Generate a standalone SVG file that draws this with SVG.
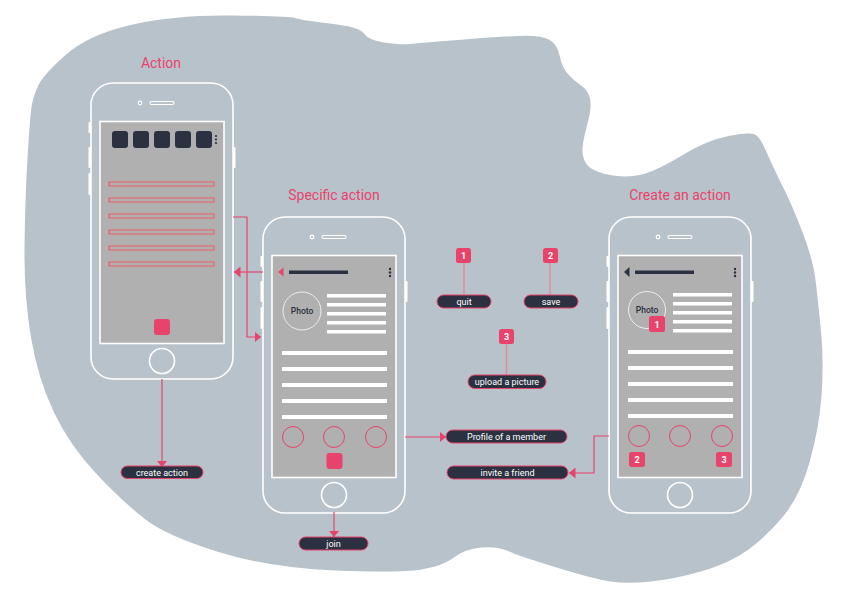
<svg xmlns="http://www.w3.org/2000/svg" xmlns:xlink="http://www.w3.org/1999/xlink" width="842" height="596" viewBox="0 0 842 596">
<style>
.title{font-family:Roboto,"Liberation Sans",sans-serif;font-size:14px;fill:#e8436b;text-anchor:middle}
.pill rect{fill:#2b3141;stroke:#e8436b;stroke-width:1}
.pill text{font-family:Roboto,"Liberation Sans",sans-serif;font-size:9px;fill:#ffffff;text-anchor:middle}
.badge rect{fill:#e8436b}
.badge text{font-family:Roboto,"Liberation Sans",sans-serif;font-size:9px;font-weight:bold;fill:#ffffff;text-anchor:middle}
.frame{fill:none;stroke:#ffffff;stroke-width:1.6}
.screen{fill:#b0b0b0;stroke:#ffffff;stroke-width:1.6}
.btn{fill:#ffffff}
.dark{fill:#2b3141}
.wline{fill:#ffffff}
.obar{fill:none;stroke:#f05a68;stroke-width:1}
.pcirc{fill:none;stroke:#e8436b;stroke-width:1}
.psq{fill:#e8436b}
.photo{fill:none;stroke:#eeeeee;stroke-width:1}
.phototxt{font-family:Roboto,"Liberation Sans",sans-serif;font-size:8.5px;font-weight:500;fill:#2b3141;text-anchor:middle}
.conn{fill:none;stroke:#e8436b;stroke-width:1.2}
.stem{fill:none;stroke:#e08c9e;stroke-width:1.5}
</style>
<defs>
<marker id="arr" markerUnits="userSpaceOnUse" markerWidth="7" markerHeight="11" refX="6.5" refY="5.5" orient="auto">
<path d="M0,0 L6.5,5.5 L0,11 Z" fill="#e8436b"/>
</marker>
<g id="phoneFrame">
<rect class="btn" x="-2.5" y="39" width="2.5" height="11" rx="1"/>
<rect class="btn" x="-2.5" y="64" width="2.5" height="21" rx="1"/>
<rect class="btn" x="-2.5" y="90" width="2.5" height="22" rx="1"/>
<rect class="btn" x="142" y="64" width="2.5" height="21" rx="1"/>
<rect class="frame" x="0" y="0" width="142" height="296" rx="22"/>
<rect class="screen" x="9" y="38.5" width="124" height="222"/>
<circle cx="49" cy="20" r="1.8" fill="none" stroke="#ffffff" stroke-width="1.2"/>
<rect x="59" y="18.5" width="24" height="3" rx="1.5" fill="none" stroke="#ffffff" stroke-width="1.1"/>
<circle cx="71" cy="278" r="12.5" fill="none" stroke="#ffffff" stroke-width="1.6"/>
</g>
</defs>
<rect width="842" height="596" fill="#ffffff"/>
<path id="blob" fill="#b8c2cb" d="M65.5,55 Q88,35 130.5,25 Q173,15 231.5,15.5 Q290,16 295,18 Q300,20 330,23.5 Q360,27 364,33.5 Q368,40 384,42.5 Q400,45 410,44 Q420,43 470,39 Q520,35 533.5,36 Q547,37 552.5,42 Q558,47 560,57 Q562,67 567.5,73.5 Q573,80 580.5,85 Q588,90 590,98.5 Q592,107 587.5,123.5 Q583,140 582.5,148.5 Q582,157 586,163.5 Q590,170 605,174 Q620,178 636.5,175.5 Q653,173 680,156.5 Q707,140 728.5,136 Q750,132 755,134.5 Q760,137 766.5,152 Q773,167 783,187 Q793,207 803,233.5 Q813,260 815.5,280 Q818,300 821,331.5 Q824,363 821.5,396 Q819,429 809.5,462.5 Q800,496 783.5,516 Q767,536 748.5,549.5 Q730,563 702.5,571 Q675,579 651,581.5 Q627,584 610.5,581.5 Q594,579 556.5,567.5 Q519,556 508,551 Q497,546 481,547.5 Q465,549 454,557.5 Q443,566 421.5,569.5 Q400,573 335,570.5 Q270,568 218.5,552 Q167,536 145.5,519.5 Q124,503 97,474.5 Q70,446 54,412.5 Q38,379 31,337.5 Q24,296 24.5,248 Q25,200 27.5,158.5 Q30,117 31.5,107 Q33,97 38,86 Q43,75 65.5,55 Z"/>

<g id="titles">
<text class="title" x="161" y="68">Action</text>
<text class="title" x="334" y="200">Specific action</text>
<text class="title" x="680" y="200">Create an action</text>
</g>

<g id="phone-action">
<use xlink:href="#phoneFrame" href="#phoneFrame" transform="translate(91,83)"/>
<rect class="dark" x="112" y="131" width="16" height="17" rx="3"/>
<rect class="dark" x="133" y="131" width="16" height="17" rx="3"/>
<rect class="dark" x="154" y="131" width="16" height="17" rx="3"/>
<rect class="dark" x="175" y="131" width="16" height="17" rx="3"/>
<rect class="dark" x="196" y="131" width="16" height="17" rx="3"/>
<circle class="dark" cx="216" cy="136" r="1.1"/>
<circle class="dark" cx="216" cy="139.5" r="1.1"/>
<circle class="dark" cx="216" cy="143" r="1.1"/>
<rect class="obar" x="109" y="182" width="105" height="4"/>
<rect class="obar" x="109" y="198" width="105" height="4"/>
<rect class="obar" x="109" y="214" width="105" height="4"/>
<rect class="obar" x="109" y="230" width="105" height="4"/>
<rect class="obar" x="109" y="246" width="105" height="4"/>
<rect class="obar" x="109" y="262" width="105" height="4"/>
<rect class="psq" x="154" y="319" width="16" height="16" rx="3"/>
</g>

<g id="phone-specific">
<use xlink:href="#phoneFrame" href="#phoneFrame" transform="translate(263,217)"/>
<polygon points="278,272 283.5,267.5 283.5,276.5" fill="#e8436b"/>
<rect class="dark" x="289" y="270.5" width="59" height="3.5"/>
<circle class="dark" cx="390" cy="269" r="1.2"/>
<circle class="dark" cx="390" cy="272.5" r="1.2"/>
<circle class="dark" cx="390" cy="276" r="1.2"/>
<circle class="photo" cx="302" cy="311" r="19"/>
<text class="phototxt" x="302" y="314">Photo</text>
<rect class="wline" x="327" y="294" width="59" height="3.5"/>
<rect class="wline" x="327" y="303" width="59" height="3.5"/>
<rect class="wline" x="327" y="312" width="59" height="3.5"/>
<rect class="wline" x="327" y="321" width="59" height="3.5"/>
<rect class="wline" x="327" y="330" width="59" height="3.5"/>
<rect class="wline" x="282" y="351" width="105" height="4"/>
<rect class="wline" x="282" y="367" width="105" height="4"/>
<rect class="wline" x="282" y="383" width="105" height="4"/>
<rect class="wline" x="282" y="399" width="105" height="4"/>
<rect class="wline" x="282" y="415" width="105" height="4"/>
<circle class="pcirc" cx="293" cy="437" r="10.5"/>
<circle class="pcirc" cx="334" cy="437" r="10.5"/>
<circle class="pcirc" cx="376" cy="437" r="10.5"/>
<rect class="psq" x="326.5" y="453" width="16" height="16" rx="3"/>
</g>

<g id="phone-create">
<use xlink:href="#phoneFrame" href="#phoneFrame" transform="translate(609,217)"/>
<polygon points="624,272 629.5,267 629.5,277" fill="#2b3141"/>
<rect class="dark" x="635" y="270.5" width="59" height="3.5"/>
<circle class="dark" cx="735" cy="269" r="1.2"/>
<circle class="dark" cx="735" cy="272.5" r="1.2"/>
<circle class="dark" cx="735" cy="276" r="1.2"/>
<circle class="photo" cx="647" cy="310" r="18.5"/>
<text class="phototxt" x="647" y="313">Photo</text>
<rect class="wline" x="673" y="293" width="59" height="3.5"/>
<rect class="wline" x="673" y="302" width="59" height="3.5"/>
<rect class="wline" x="673" y="311" width="59" height="3.5"/>
<rect class="wline" x="673" y="320" width="59" height="3.5"/>
<rect class="wline" x="673" y="329" width="59" height="3.5"/>
<rect class="wline" x="628" y="350" width="105" height="4"/>
<rect class="wline" x="628" y="366" width="105" height="4"/>
<rect class="wline" x="628" y="382" width="105" height="4"/>
<rect class="wline" x="628" y="398" width="105" height="4"/>
<rect class="wline" x="628" y="414" width="105" height="4"/>
<circle class="pcirc" cx="639" cy="436" r="10.5"/>
<circle class="pcirc" cx="680" cy="436" r="10.5"/>
<circle class="pcirc" cx="722" cy="436" r="10.5"/>
<g class="badge"><rect x="649" y="316" width="16" height="16" rx="2.5"/><text x="657" y="327.5">1</text></g>
<g class="badge"><rect x="629" y="452" width="16" height="15" rx="2.5"/><text x="637" y="463">2</text></g>
<g class="badge"><rect x="716" y="452" width="16" height="15" rx="2.5"/><text x="724" y="463">3</text></g>
</g>

<g id="connectors">
<polyline class="conn" points="233,217 247,217 247,337 261,337" marker-end="url(#arr)"/>
<polyline class="conn" points="263,272 234,272" marker-end="url(#arr)"/>
<polyline class="conn" points="162,379 162,467" marker-end="url(#arr)"/>
<polyline class="conn" points="334,512 334,537" marker-end="url(#arr)"/>
<polyline class="conn" points="405,437 446,437" marker-end="url(#arr)"/>
<polyline class="conn" points="609,436 594,436 594,473 569,473" marker-end="url(#arr)"/>
<line class="stem" x1="464" y1="263" x2="464" y2="295"/>
<line class="stem" x1="550" y1="263" x2="550" y2="295"/>
<line class="stem" x1="506.5" y1="344" x2="506.5" y2="375"/>
</g>

<g id="badge-1" class="badge"><rect x="456" y="248" width="15" height="15" rx="2.5"/><text x="463.5" y="259">1</text></g>
<g id="badge-2" class="badge"><rect x="543" y="248" width="15" height="15" rx="2.5"/><text x="550.5" y="259">2</text></g>
<g id="badge-3" class="badge"><rect x="499" y="329" width="15" height="15" rx="2.5"/><text x="506.5" y="340">3</text></g>

<g id="pill-create-action" class="pill"><rect x="121" y="466" width="82" height="12.5" rx="6.25"/><text x="162" y="475.5">create action</text></g>
<g id="pill-join" class="pill"><rect x="299" y="537" width="69" height="13" rx="6.5"/><text x="333.5" y="546.8">join</text></g>
<g id="pill-quit" class="pill"><rect x="437" y="295" width="54" height="13" rx="6.5"/><text x="464" y="304.8">quit</text></g>
<g id="pill-save" class="pill"><rect x="524" y="295" width="54" height="13" rx="6.5"/><text x="551" y="304.8">save</text></g>
<g id="pill-upload" class="pill"><rect x="468" y="375" width="78" height="13.5" rx="6.75"/><text x="507" y="385">upload a picture</text></g>
<g id="pill-profile" class="pill"><rect x="446" y="430" width="121" height="13" rx="6.5"/><text x="506.5" y="439.8">Profile of a member</text></g>
<g id="pill-invite" class="pill"><rect x="447" y="466" width="121" height="13" rx="6.5"/><text x="507.5" y="475.8">invite a friend</text></g>
</svg>
